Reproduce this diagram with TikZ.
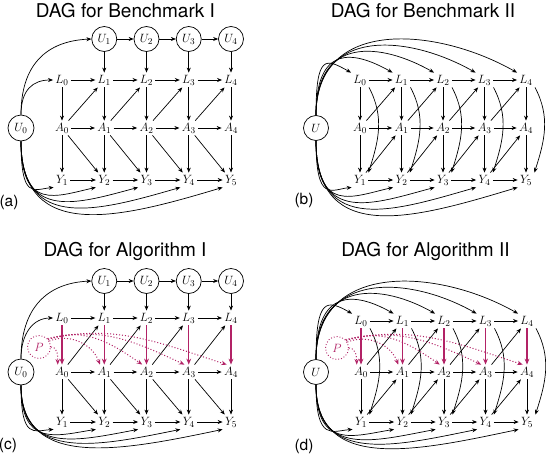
\documentclass[tikz,border=0pt]{standalone}
\usepackage{fontspec}
\setsansfont{TeX Gyre Heros}
\usetikzlibrary{arrows.meta}
\definecolor{mag}{RGB}{178,34,102}
\tikzset{
  edge/.style={-{Stealth[length=5pt,width=4pt]}, line width=0.7pt},
  arr/.style={edge, draw=black},
  lab/.style={inner sep=2.2pt, font=\fontsize{12.5}{14}\selectfont},
  circ/.style={draw, circle, minimum size=25pt, inner sep=0pt, line width=0.7pt, font=\fontsize{12.5}{14}\selectfont},
  pcirc/.style={draw=mag, dotted, circle, minimum size=23pt, inner sep=0pt, line width=0.9pt, text=mag, font=\fontsize{12.5}{14}\selectfont},
  marr/.style={-{Stealth[length=6pt,width=4.8pt]}, draw=mag, line width=1.2pt},
  parr/.style={-{Stealth[length=5.5pt,width=4.4pt]}, draw=mag, dotted, line width=1pt},
  ttl/.style={font=\sffamily\fontsize{19}{22}\selectfont, anchor=base},
  plab/.style={font=\sffamily\fontsize{15.5}{18}\selectfont},
}
% panel type I: #1 prefix, #2 yU, #3 yL, #4 yA, #5 yY, #6 L->A style, #7 depth scale
\newcommand{\panelOne}[7]{%
  \foreach \i in {0,...,4}{
    \node[lab] (#1L\i) at ({62+42.25*\i},-#3) {$L_{\i}$};
    \node[lab] (#1A\i) at ({62+42.25*\i},-#4) {$A_{\i}$};
  }
  \foreach \i in {1,...,5}{
    \node[lab] (#1Y\i) at ({62+42.25*(\i-1)},-#5) {$Y_{\i}$};
  }
  \foreach \i in {1,...,4}{
    \node[circ] (#1U\i) at ({62+42.25*\i},-#2) {$U_{\i}$};
  }
  \node[circ, minimum size=26pt] (#1U0) at (21,-#4) {$U_0$};
  \foreach \i/\j in {1/2,2/3,3/4}{ \draw[arr] (#1U\i) -- (#1U\j); }
  \foreach \i in {1,...,4}{ \draw[arr] (#1U\i) -- (#1L\i); }
  \foreach \i/\j in {0/1,1/2,2/3,3/4}{
    \draw[arr] (#1L\i) -- (#1L\j);
    \draw[arr] (#1A\i) -- (#1A\j);
    \draw[arr] (#1A\i) -- (#1L\j);
  }
  \foreach \i/\j in {1/2,2/3,3/4,4/5}{ \draw[arr] (#1Y\i) -- (#1Y\j); }
  \foreach \i/\j in {0/2,1/3,2/4,3/5}{ \draw[arr] (#1A\i) -- (#1Y\j); }
  \foreach \i/\j in {0/1,1/2,2/3,3/4,4/5}{
    \draw[#6] (#1L\i) -- (#1A\i);
    \draw[arr] (#1A\i) -- (#1Y\j);
    \draw[arr] (#1U0.south) .. controls +(0,{-(44+#7*(4+11*\j))}) and +({-20*\j},{-#7*(7*\j-5)}) .. (#1Y\j.south west);
  }
  \draw[arr] (#1U0.north) .. controls +(0,50) and +(-45,-2) .. (#1U1.west);
  \draw[arr] (#1U0.north) .. controls +(0,25) and +(-20,0) .. (#1L0.west);
}
% panel type II: #1 prefix, #2 x0, #3 yU, #4 yL, #5 yA, #6 yY, #7 L->A style, #8 depth scale
\newcommand{\panelTwo}[8]{%
  \foreach \i in {0,...,4}{
    \node[lab] (#1L\i) at ({#2+41.5*\i},-#4) {$L_{\i}$};
    \node[lab] (#1A\i) at ({#2+41.5*\i},-#5) {$A_{\i}$};
  }
  \foreach \i in {1,...,5}{
    \node[lab] (#1Y\i) at ({#2+41.5*(\i-1)},-#6) {$Y_{\i}$};
  }
  \node[circ] (#1U) at (316,-#3) {$U$};
  \foreach \i/\j in {0/1,1/2,2/3,3/4}{
    \draw[arr] (#1L\i) -- (#1L\j);
    \draw[arr] (#1A\i) -- (#1A\j);
    \draw[arr] (#1A\i) -- (#1L\j);
    \draw[arr] (#1Y\j) -- (#1A\j);
  }
  \foreach \i/\j in {1/2,2/3,3/4,4/5}{ \draw[arr] (#1Y\i) -- (#1Y\j); }
  \foreach \i/\j in {0/1,1/2,2/3,3/4,4/5}{
    \draw[#7] (#1L\i) -- (#1A\i);
    \draw[arr] (#1A\i) -- (#1Y\j);
    \draw[arr] (#1L\i.south east) to[out=-62,in=72] (#1Y\j.north east);
    \draw[arr] (#1U.north) .. controls +(0,{62+9*\i}) and +({-25-14*\i},{14+8*\i}) .. (#1L\i.north west);
    \draw[arr] (#1U.south) .. controls +(0,{-(46+#8*(6+11*\j))}) and +({-20*\j},{-#8*(7*\j-5)}) .. (#1Y\j.south west);
  }
}
\begin{document}
\begin{tikzpicture}[x=1pt,y=1pt]
\useasboundingbox (0,0) rectangle (546,-458);
\fill[white] (0,0) rectangle (546,-458);
% titles and panel labels
\node[ttl] (ta) at (125.5,-17) {DAG for Benchmark I};
\node[ttl] (tb) at (423,-17) {DAG for Benchmark II};
\node[ttl] (tc) at (125,-256) {DAG for Algorithm I};
\node[ttl] (td) at (425.5,-256) {DAG for Algorithm II};
\node[plab] (la) at (9,-202) {(a)};
\node[plab] (lb) at (304,-200) {(b)};
\node[plab] (lc) at (8,-445) {(c)};
\node[plab] (ld) at (304,-446) {(d)};
% panels
\panelOne{a}{39}{80}{128}{180}{arr}{1}
\panelTwo{b}{360}{128}{80}{128}{180}{arr}{1}
\panelOne{c}{281}{318}{372}{422}{marr}{0.7}
\panelTwo{d}{361}{372}{321}{372}{422}{marr}{0.7}
% P nodes and dotted arrows
\node[pcirc] (cP) at (39,-347) {$P$};
\node[pcirc] (dP) at (337,-348) {$P$};
\foreach \p in {c,d}{
  \draw[parr] (\p P.east) to[out=0,in=90] (\p A0.120);
  \draw[parr] (\p P.30) to[out=22,in=110] (\p A1.120);
  \draw[parr] (\p P.40) to[out=20,in=145] (\p A2.120);
  \draw[parr] (\p P.40) to[out=15,in=155] (\p A3.120);
  \draw[parr] (\p P.45) to[out=12,in=162] (\p A4.120);
}
\end{tikzpicture}
\end{document}
